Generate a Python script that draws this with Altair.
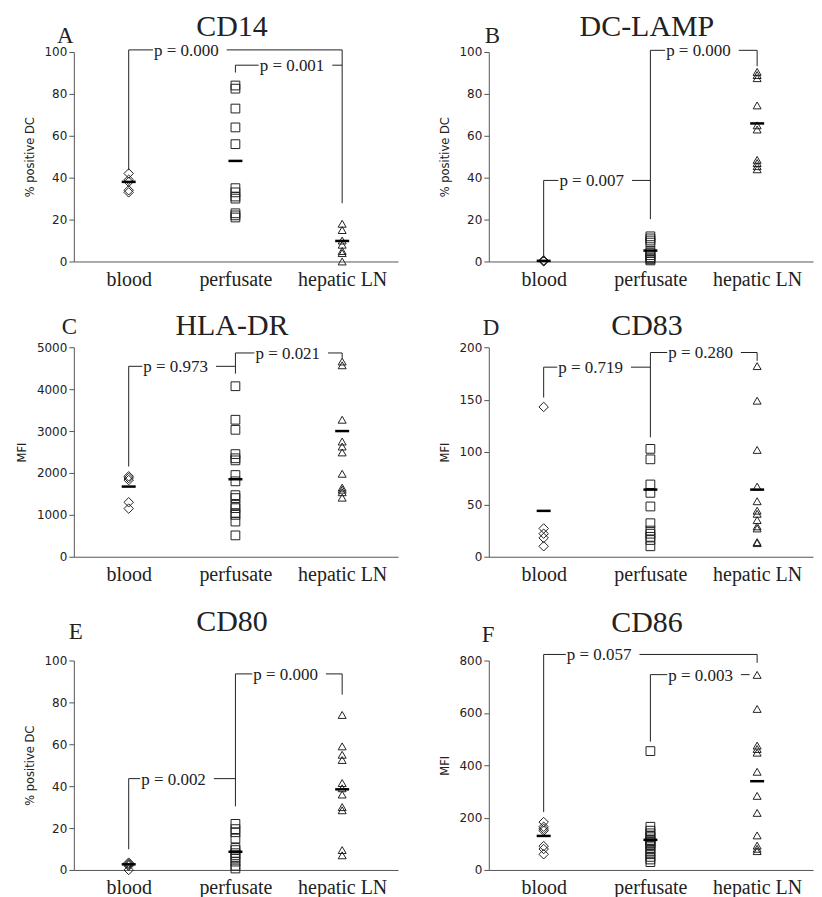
import altair as alt
import pandas as pd

SERIF = "Liberation Serif"
SANS = "DejaVu Sans"
INK = "#222222"
AXIS = "#555555"

CATS = ["blood", "perfusate", "hepatic LN"]
SHAPES = ["diamond", "square", "triangle-up"]
SIZES = [90, 64, 75]

# ---- Panel A: CD14 (% positive DC)
a_blood = [42, 39, 38, 34, 33]
a_perf = [84, 82.5, 73, 64, 56, 35, 33, 31, 30, 23, 22, 21]
a_hep = [18, 15, 10, 8, 5, 4, 0]
a_means = [38, 48, 9.8]

# ---- Panel B: DC-LAMP (% positive DC)
b_blood = [0.5, 0.3, 0.2, 0.1, 0.4]
b_perf = [12, 11, 10, 9, 5, 4, 3, 2, 1.5, 1, 0.5]
b_hep = [90.5, 89, 87.5, 74.5, 65, 63, 48.5, 47, 45.5, 44]
b_means = [0.3, 5.2, 65.9]

# ---- Panel C: HLA-DR (MFI)
c_blood = [1920, 1880, 1830, 1300, 1150]
c_perf = [4070, 3270, 3030, 2450, 2350, 2300, 1950, 1800, 1470, 1400,
          1240, 1160, 1040, 1000, 840, 510]
c_hep = [4660, 4570, 3270, 2750, 2630, 2490, 1980, 1650, 1600, 1540, 1410]
c_means = [1675, 1850, 3000]

# ---- Panel D: CD83 (MFI)
d_blood = [143, 27, 22, 18, 10]
d_perf = [103, 93, 69, 61, 48, 32, 25, 22, 19, 16, 10]
d_hep = [182, 149, 102, 67, 53, 44, 41, 35, 29, 27, 14, 13]
d_means = [43.8, 64.1, 64.1]

# ---- Panel E: CD80 (% positive DC)
e_blood = [3.5, 3, 2.5, 2, 0]
e_perf = [22, 19.5, 18, 15, 10.5, 9.5, 8, 7, 5.5, 4, 2, 0.7]
e_hep = [74, 59, 55, 52.5, 41.5, 39, 36, 30, 28.5, 9.5, 7]
e_means = [2.7, 8.7, 38.5]

# ---- Panel F: CD86 (MFI)
f_blood = [183, 165, 157, 150, 91, 80, 60]
f_perf = [454, 165, 150, 140, 130, 125, 115, 110, 105, 100, 95, 90, 80,
          70, 60, 50, 40, 30]
f_hep = [745, 615, 475, 462, 448, 375, 283, 218, 132, 93, 81, 72]
f_means = [130, 115, 339]

# ---- significance brackets: (from, to, level, left arm end, right arm end, label, label position)
a_brackets = [(1, 3, 101, 43.6, 27.8, "p = 0.000", 1.54),
              (2, 3, 93.7, 90.2, None, "p = 0.001", 2.53)]
b_brackets = [(1, 2, 38.7, 1.6, None, "p = 0.007", 1.45),
              (2, 3, 100.8, 20.2, 93.2, "p = 0.000", 2.45)]
c_brackets = [(1, 2, 4545, 2153, None, "p = 0.973", 1.44),
              (2, 3, 4864, 4370, 4745, "p = 0.021", 2.49)]
d_brackets = [(1, 2, 181, 152, None, "p = 0.719", 1.44),
              (2, 3, 195, 114, 187, "p = 0.280", 2.47)]
e_brackets = [(1, 2, 43.6, 9.9, None, "p = 0.002", 1.42),
              (2, 3, 93.6, 30.4, 83.7, "p = 0.000", 2.47)]
f_brackets = [(1, 3, 823, 221, 791, "p = 0.057", 1.52),
              (2, 2.93, 746, 490, None, "p = 0.003", 2.47)]

W, H = 325, 210
PX_PER_UNIT = 107.0
XMIN = 0.486
XMAX = XMIN + W / PX_PER_UNIT
PFONT = 17


def text_width(s, size=PFONT):
    widths = {"p": 0.5, " ": 0.25, "=": 0.564, ".": 0.25}
    return sum(widths.get(ch, 0.5) for ch in s) * size


def panel(letter, title, ylabel, ymax, ystep, series, means, brackets,
          title_up, letter_up, letter_dx):
    pts = pd.DataFrame([{"x": i + 1, "v": v, "g": CATS[i]}
                        for i, s in enumerate(series) for v in s])
    mdf = pd.DataFrame({"x": [1, 2, 3], "v": means})
    segs, txts = [], []
    for (x1, x2, lev, yl, yr, lab, tx) in brackets:
        half = text_width(lab) / 2 / PX_PER_UNIT
        segs.append(dict(x=x1, x2=tx - half - 1 / PX_PER_UNIT, y=lev, y2=lev))
        segs.append(dict(x=tx + half + 8 / PX_PER_UNIT, x2=x2, y=lev, y2=lev))
        if yl is not None:
            segs.append(dict(x=x1, x2=x1, y=lev, y2=yl))
        if yr is not None:
            segs.append(dict(x=x2, x2=x2, y=lev, y2=yr))
        txts.append(dict(x=tx, y=lev, t=lab))
    sdf = pd.DataFrame(segs)
    tdf = pd.DataFrame(txts)

    xs = alt.Scale(domain=[XMIN, XMAX], nice=False, zero=False)
    ys = alt.Scale(domain=[0, ymax], nice=False)
    xaxis = alt.Axis(values=[1, 2, 3], ticks=False, grid=False, title=None,
                     labelExpr="['', 'blood', 'perfusate', 'hepatic LN'][datum.value]",
                     labelFont=SERIF, labelFontSize=20, labelColor=INK,
                     labelPadding=8, labelFlush=False, domainColor=AXIS)
    yaxis = alt.Axis(values=list(range(0, ymax + 1, ystep)), format="d", grid=False,
                     tickSize=5, tickColor=AXIS, domainColor=AXIS,
                     labelFont=SANS, labelFontSize=12, labelColor=INK,
                     title=ylabel, titleFont=SANS, titleFontSize=11.5,
                     titleFontWeight="normal", titleColor=INK, titlePadding=9)

    points = alt.Chart(pts).mark_point(filled=False, strokeWidth=1, color=INK,
                                       opacity=1, clip=False).encode(
        x=alt.X("x:Q", scale=xs, axis=xaxis),
        y=alt.Y("v:Q", scale=ys, axis=yaxis),
        shape=alt.Shape("g:N", scale=alt.Scale(domain=CATS, range=SHAPES), legend=None),
        size=alt.Size("g:N", scale=alt.Scale(domain=CATS, range=SIZES), legend=None),
    )
    mean_ticks = alt.Chart(mdf).mark_tick(orient="horizontal", size=14, thickness=2.5,
                                          color="#000000", opacity=1).encode(
        x=alt.X("x:Q", scale=xs), y=alt.Y("v:Q", scale=ys))
    rules = alt.Chart(sdf).mark_rule(color=INK, strokeWidth=1, clip=False).encode(
        x=alt.X("x:Q", scale=xs), x2="x2:Q",
        y=alt.Y("y:Q", scale=ys), y2="y2:Q")
    labels = alt.Chart(tdf).mark_text(font=SERIF, fontSize=PFONT, color=INK,
                                      align="center", baseline="middle", dy=1).encode(
        x=alt.X("x:Q", scale=xs), y=alt.Y("y:Q", scale=ys), text="t:N")
    letter_mark = alt.Chart(pd.DataFrame({"t": [letter]})).mark_text(
        font=SERIF, fontSize=23, color=INK, align="left", baseline="alphabetic").encode(
        x=alt.value(letter_dx), y=alt.value(-letter_up), text="t:N")
    title_mark = alt.Chart(pd.DataFrame({"t": [title]})).mark_text(
        font=SERIF, fontSize=30, color=INK, align="center", baseline="alphabetic").encode(
        x=alt.value(W / 2 - 4), y=alt.value(-title_up), text="t:N")

    return alt.layer(points, mean_ticks, rules, labels, letter_mark, title_mark).properties(
        width=W, height=H)


panels = [
    panel("A", "CD14", "% positive DC", 100, 20, [a_blood, a_perf, a_hep], a_means, a_brackets, 16, 9, -17),
    panel("B", "DC-LAMP", "% positive DC", 100, 20, [b_blood, b_perf, b_hep], b_means, b_brackets, 16, 9, -4),
    panel("C", "HLA-DR", "MFI", 5000, 1000, [c_blood, c_perf, c_hep], c_means, c_brackets, 12, 13, -12),
    panel("D", "CD83", "MFI", 200, 50, [d_blood, d_perf, d_hep], d_means, d_brackets, 12, 12, -6),
    panel("E", "CD80", "% positive DC", 100, 20, [e_blood, e_perf, e_hep], e_means, e_brackets, 30, 22, -5),
    panel("F", "CD86", "MFI", 800, 200, [f_blood, f_perf, f_hep], f_means, f_brackets, 29, 19, -7),
]

chart = alt.concat(*panels, columns=2, spacing={"row": 20, "column": 39}).properties(
    padding={"left": 7, "top": 2, "right": 0, "bottom": 0}
).configure_view(stroke="transparent")

chart.save("out.html", embed_options={"renderer": "svg", "actions": False})
